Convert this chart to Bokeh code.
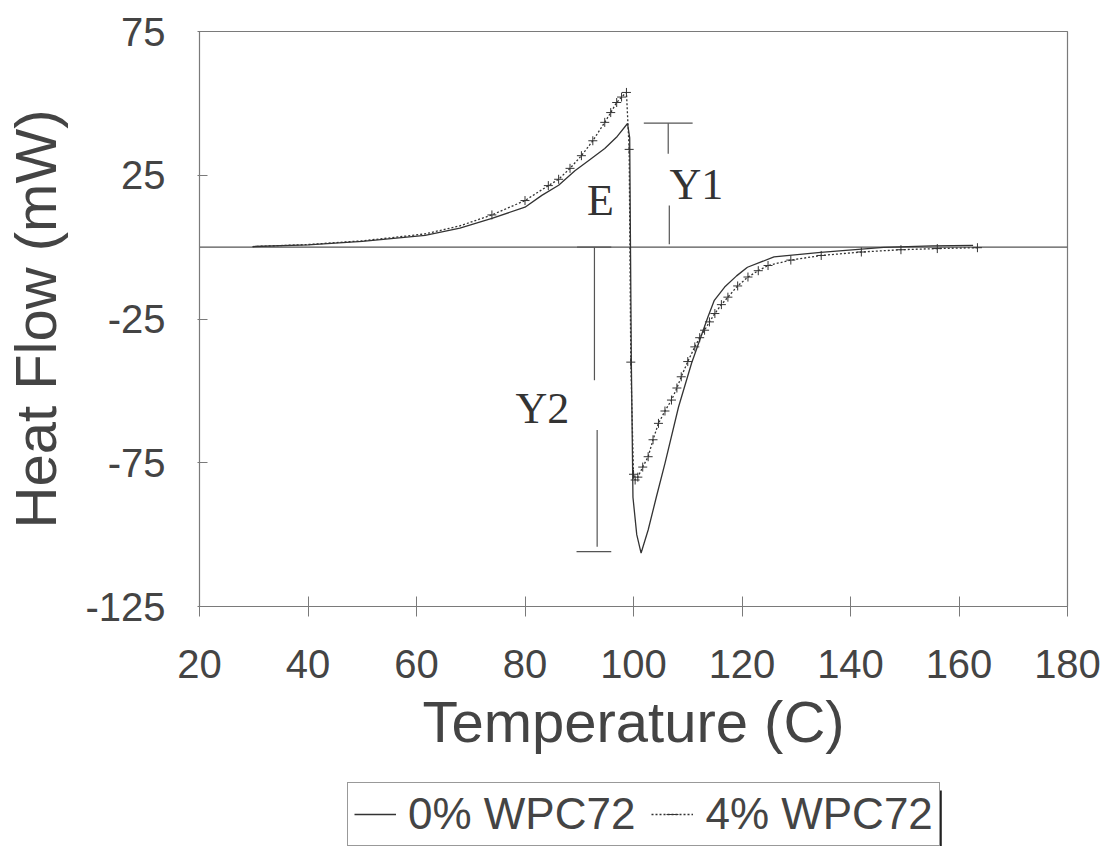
from bokeh.plotting import figure
from bokeh.layouts import column
from bokeh.models import (FixedTicker, Legend, LegendItem, Label, ColumnDataSource, Range1d)
from bokeh.embed import file_html
from bokeh.resources import INLINE

# ---- data ----
t_0pct = [29.8, 40, 50, 61.6, 68, 73.9, 80, 83.1, 86.2, 89.2, 92, 94.7, 97, 98.9, 99.3, 99.6, 99.9,
          100.6, 101.4, 102.7, 104.2, 105.8, 108.3, 110.7, 113.7, 114.9, 116.8, 119, 121, 125.9,
          134.5, 146.1, 155, 162.6]
hf_0pct = [0.2, 0.8, 2.0, 4.1, 6.6, 10.0, 13.9, 18.0, 21.5, 26.6, 30.5, 34.3, 38.5, 43.0, 38.0, -40.0, -87.0,
           -100.0, -106.4, -98.4, -87.0, -75.2, -55.6, -40.4, -24.4, -18.5, -13.9, -10.0, -7.0, -3.4,
           -1.8, -0.1, 0.4, 0.6]

t_4pct = [29.8, 40, 50, 55, 61.6, 68, 73.9, 80, 84.3, 86.2, 88.3, 90.4, 92.5, 94.7, 95.8, 96.9, 97.8,
          98.7, 99.2, 99.5, 100.0, 100.3, 100.8, 101.7, 102.7, 103.6, 104.6, 105.8, 107.0, 108.0, 108.8,
          110.0, 111.3, 112.2, 113.1, 114.0, 115.0, 116.2, 117.4, 119.2, 121.1, 123.0, 124.8, 129.0,
          134.6, 142.0, 149.3, 156.0, 163.4]
hf_4pct = [0.2, 0.9, 2.2, 3.2, 4.6, 7.4, 11.2, 16.2, 21.4, 23.6, 27.4, 31.8, 37.0, 43.4, 46.8, 50.3, 52.2,
           53.8, 34.0, -40.0, -79.0, -81.0, -80.0, -76.5, -72.9, -67.0, -61.3, -57.0, -53.2, -49.0, -45.1,
           -39.8, -34.7, -31.5, -28.9, -26.0, -23.1, -20.0, -17.4, -13.5, -10.4, -8.2, -6.4, -4.5,
           -2.9, -1.7, -0.9, -0.5, -0.2]

x_ticks = [20, 40, 60, 80, 100, 120, 140, 160, 180]
y_ticks = [-125, -75, -25, 25, 75]
series_names = ["0% WPC72", "4% WPC72"]

AXIS = "#7a7a7a"
INK = "#333333"

p = figure(width=1102, height=776, output_backend="svg", toolbar_location=None,
           x_range=Range1d(20, 180), y_range=Range1d(-125, 75),
           min_border_left=197, min_border_right=35, min_border_top=31, min_border_bottom=170)
p.xgrid.visible = False
p.ygrid.visible = False
p.outline_line_color = AXIS
p.outline_line_width = 1.2
p.background_fill_color = "white"
p.border_fill_color = "white"

for ax in (p.xaxis[0], p.yaxis[0]):
    ax.axis_line_color = AXIS
    ax.major_tick_line_color = AXIS
    ax.minor_tick_line_color = None
    ax.major_label_text_font = "Liberation Sans"
    ax.major_label_text_font_size = "40px"
    ax.major_label_text_color = "#444444"
    ax.axis_label_text_font = "Liberation Sans"
    ax.axis_label_text_font_style = "normal"
    ax.axis_label_text_color = "#444444"

p.xaxis.ticker = FixedTicker(ticks=x_ticks)
p.xaxis.major_tick_in = 10
p.xaxis.major_tick_out = 10
p.xaxis.major_label_standoff = 33
p.xaxis.axis_label = "Temperature (C)"
p.xaxis.axis_label_text_font_size = "58px"
p.xaxis.axis_label_standoff = 8

p.yaxis.ticker = FixedTicker(ticks=y_ticks)
p.yaxis.major_label_overrides = {v: str(v) for v in y_ticks}
p.yaxis.major_tick_in = 8
p.yaxis.major_tick_out = 2
p.yaxis.major_label_standoff = 32
p.yaxis.axis_label = "Heat Flow (mW)"
p.yaxis.axis_label_text_font_size = "58px"
p.yaxis.axis_label_standoff = 14

# zero line
p.line([20, 180], [0, 0], line_color="#555555", line_width=1.2)

# annotation brackets
p.segment(x0=[101.9, 106.4, 106.6, 89.6, 92.8, 93.3, 89.5],
          y0=[43.1, 43.1, 14.5, 0.0, 0.0, -63.6, -105.9],
          x1=[110.9, 106.4, 106.6, 95.9, 92.8, 93.3, 95.9],
          y1=[43.1, 32.5, 1.0, 0.0, -46.3, -104.2, -105.9],
          line_color="#555555", line_width=1.2)
for txt, tx, ty in [("E", 93.9, 16.2), ("Y1", 111.6, 21.8), ("Y2", 83.2, -56.0)]:
    p.add_layout(Label(x=tx, y=ty, text=txt, text_font="Liberation Serif", text_font_size="44px",
                       text_color="#333333", text_align="center", text_baseline="middle"))

# series
src0 = ColumnDataSource(dict(x=t_0pct, y=hf_0pct))
src4 = ColumnDataSource(dict(x=t_4pct, y=hf_4pct))
p.line("x", "y", source=src0, line_color=INK, line_width=1.3)
p.line("x", "y", source=src4, line_color=INK, line_width=1.3, line_dash="2 2")
mk = ColumnDataSource(dict(x=[t for t in t_4pct if t > 70],
                           y=[h for t, h in zip(t_4pct, hf_4pct) if t > 70]))
p.scatter("x", "y", source=mk, marker="cross", size=9, line_color=INK, line_width=1)

# ---- legend strip below the chart (its frame is aligned with the chart's frame: 197..1067) ----
leg = figure(width=1102, height=70, output_backend="svg", toolbar_location=None,
             x_range=Range1d(197, 1067), y_range=Range1d(0, 70),
             min_border_left=197, min_border_right=35, min_border_top=0, min_border_bottom=0)
leg.axis.visible = False
leg.xgrid.visible = False
leg.ygrid.visible = False
leg.outline_line_color = None
leg.background_fill_color = "white"
leg.border_fill_color = "white"

# shadow on the right side of the legend box
leg.quad(left=[936], right=[941], bottom=[0], top=[56], fill_color="#222222", line_color=None)

# same series again (they fall outside this strip's range; only their legend swatches show)
l0 = leg.line("x", "y", source=src0, line_color=INK, line_width=1.3)
l4 = leg.line("x", "y", source=src4, line_color=INK, line_width=1.3, line_dash="2 2")
l4m = leg.scatter("x", "y", source=mk, marker="dash", size=14, line_color=INK, line_width=1)

legend = Legend(items=[LegendItem(label=series_names[0], renderers=[l0]),
                       LegendItem(label=series_names[1], renderers=[l4, l4m])],
                orientation="horizontal", location=(148, 0),
                label_text_font="Liberation Sans", label_text_font_size="44px",
                label_text_color="#444444", glyph_width=42, glyph_height=30,
                label_standoff=12, spacing=16, padding=6, margin=0,
                border_line_color="#333333", border_line_width=1.5,
                background_fill_color="white", background_fill_alpha=1.0)
leg.add_layout(legend, "center")

layout = column(p, leg, spacing=0)
open("out.html", "w").write(file_html(layout, INLINE))
